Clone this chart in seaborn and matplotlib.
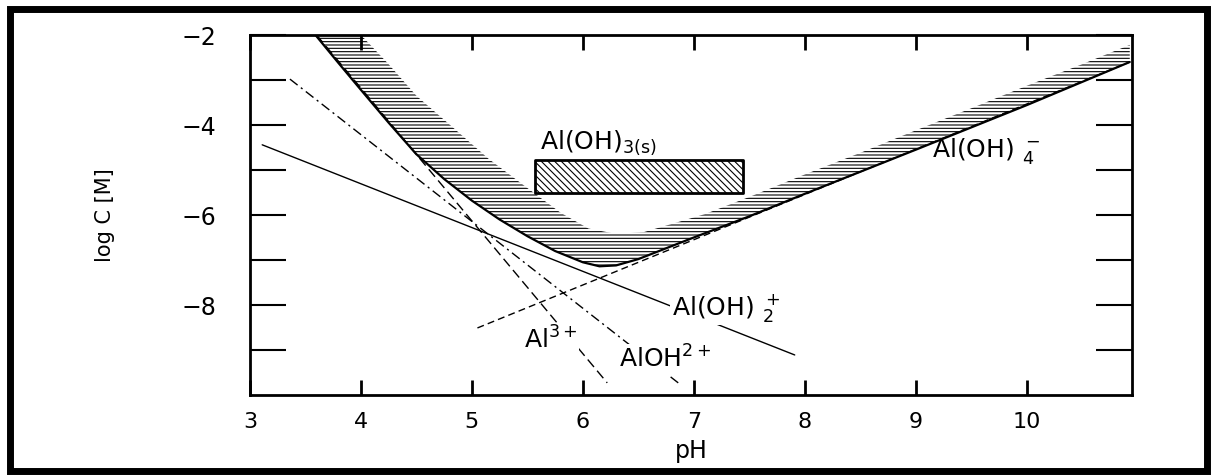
import numpy as np
import pandas as pd
import matplotlib
matplotlib.use("Agg")
import matplotlib.pyplot as plt
from matplotlib.patches import Rectangle
import seaborn as sns

# ---------------- data ----------------
# total dissolved Al (lower edge of the hatched band)
ph_total = [3.59, 3.8, 4.0, 4.25, 4.5, 4.75, 5.0, 5.25, 5.5, 5.75, 6.0, 6.15,
            6.3, 6.5, 6.75, 7.0, 7.5, 8.0, 9.0, 10.0, 10.93]
logc_total = [-2.0, -2.63, -3.22, -3.95, -4.65, -5.2, -5.68, -6.1, -6.47, -6.8,
              -7.05, -7.14, -7.12, -6.98, -6.74, -6.5, -6.03, -5.53, -4.55,
              -3.56, -2.6]
# upper edge of the hatched band
ph_upper = [4.0, 4.25, 4.5, 4.85, 5.15, 5.5, 5.8, 6.05, 6.3, 6.55, 6.8, 7.1,
            7.5, 8.0, 8.5, 9.0, 9.5, 10.0, 10.5, 10.93]
logc_upper = [-2.0, -2.65, -3.35, -4.1, -4.75, -5.4, -5.95, -6.3, -6.42, -6.38,
              -6.2, -5.98, -5.6, -5.1, -4.62, -4.12, -3.63, -3.13, -2.65, -2.22]

# species lines
ph_al3 = [3.6, 6.22]
logc_al3 = [-2.0, -9.73]
ph_aloh = [3.36, 6.86]
logc_aloh = [-2.98, -9.73]
ph_aloh2 = [3.11, 7.91]
logc_aloh2 = [-4.44, -9.11]
ph_aloh4 = [5.05, 10.93]
logc_aloh4 = [-8.51, -2.6]

# Al(OH)3(s) box
box_ph = [5.57, 7.44]
box_low = [-5.51, -5.51]
box_high = [-4.78, -4.78]

x_ticks = [3, 4, 5, 6, 7, 8, 9, 10]
y_major = [-8, -6, -4, -2]
y_minor = [-9, -7, -5, -3]

# ---------------- style ----------------
sns.set_theme(style="white")
plt.rcParams["font.family"] = ["DejaVu Sans"]
plt.rcParams["mathtext.fontset"] = "dejavusans"
plt.rcParams["hatch.linewidth"] = 0.8
plt.rcParams["axes.unicode_minus"] = True
plt.rcParams["text.color"] = "black"
plt.rcParams["axes.labelcolor"] = "black"

fig, ax = plt.subplots(figsize=(12.13, 4.75), dpi=100)
fig.subplots_adjust(left=0.2061, right=0.9332, bottom=0.1684, top=0.9263)

# hatched band between the two solubility curves
band_x = np.r_[ph_upper, ph_total[::-1]]
band_y = np.r_[logc_upper, logc_total[::-1]]
ax.fill(band_x, band_y, facecolor="none", edgecolor="black", hatch="-----",
        linewidth=0, zorder=1)

# species lines
sns.lineplot(x=ph_aloh4, y=logc_aloh4, sort=False, color="black", linewidth=1.0,
             linestyle=(0, (5, 3)), ax=ax, zorder=2)
sns.lineplot(x=ph_al3, y=logc_al3, sort=False, color="black", linewidth=1.0,
             linestyle=(0, (7, 3.5)), ax=ax, zorder=2)
sns.lineplot(x=ph_aloh, y=logc_aloh, sort=False, color="black", linewidth=1.0,
             linestyle=(0, (7, 3, 1.5, 3)), ax=ax, zorder=2)
sns.lineplot(x=ph_aloh2, y=logc_aloh2, sort=False, color="black", linewidth=1.0,
             ax=ax, zorder=2)
# total curve
sns.lineplot(x=ph_total, y=logc_total, sort=False, color="black", linewidth=1.6,
             ax=ax, zorder=3)

# solid phase box
ax.fill_between(box_ph, box_low, box_high, facecolor="white", edgecolor="black",
                hatch="\\\\\\\\\\", linewidth=2.0, zorder=3)

# labels
fs = 18
ax.text(5.61, -4.52, r"Al(OH)$_{\mathrm{3(s)}}$", fontsize=fs, ha="left",
        va="baseline", color="black", zorder=4)
ax.text(9.15, -4.72, r"Al(OH) $_4^-$", fontsize=fs, ha="left", va="baseline",
        color="black", zorder=4)
bb = dict(facecolor="white", edgecolor="none", pad=1.0)
ax.text(6.8, -8.22, r"Al(OH) $_2^+$", fontsize=fs, ha="left", va="baseline",
        color="black", bbox=bb, zorder=4)
ax.text(5.47, -8.96, r"Al$^{3+}$", fontsize=fs, ha="left", va="baseline",
        color="black", bbox=bb, zorder=4)
ax.text(6.33, -9.4, r"AlOH$^{2+}$", fontsize=fs, ha="left", va="baseline",
        color="black", bbox=bb, zorder=4)

# axes
ax.set_xlim(3, 10.95)
ax.set_ylim(-10, -2)
ax.set_xticks(x_ticks)
ax.set_xticklabels([str(v) for v in x_ticks])
ax.set_yticks(y_major)
ax.set_yticks(y_minor, minor=True)
ax.set_yticklabels(["\u2212" + str(abs(v)) for v in y_major])

ax.tick_params(axis="x", which="major", direction="in", length=11, width=2.0,
               top=True, bottom=True, labelsize=16, pad=12, colors="black")
ax.tick_params(axis="y", which="both", direction="in", length=26, width=1.5,
               left=True, right=True, labelsize=17, pad=24, colors="black")
ax.grid(False)
for s in ax.spines.values():
    s.set_color("black")
    s.set_linewidth(2.0)

ax.set_xlabel("pH", fontsize=17, color="black")
ax.set_ylabel("log C [M]", fontsize=15, color="black")
ax.xaxis.set_label_coords(0.5, -0.122)
ax.yaxis.set_label_coords(-0.153, 0.5)

# outer frame
fig.add_artist(Rectangle((0.0082, 0.0084), 0.9868, 0.9726, transform=fig.transFigure,
                         fill=False, edgecolor="black", linewidth=5))

fig.savefig("out.png", dpi=100)
